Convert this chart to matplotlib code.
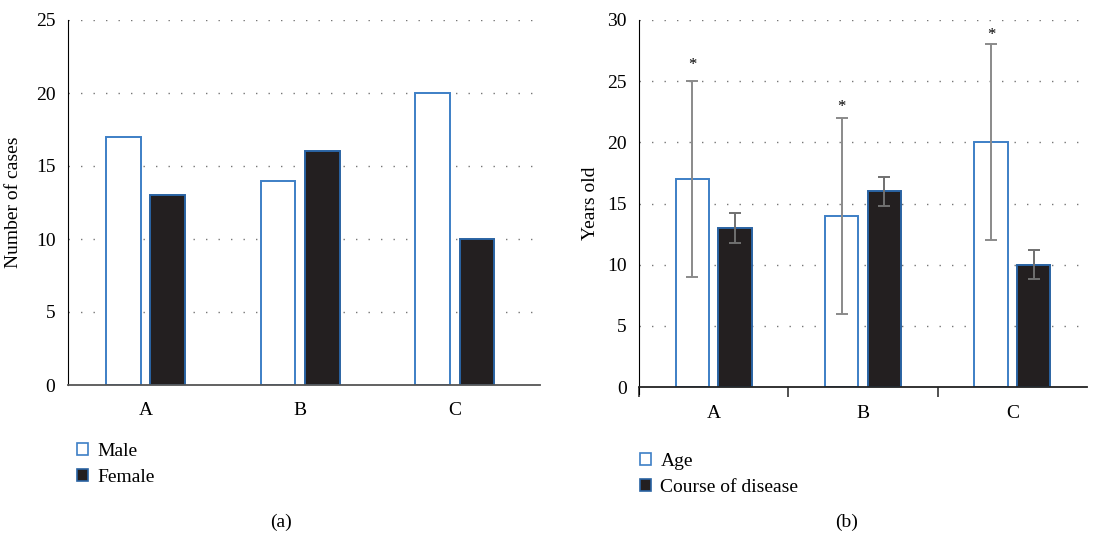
import matplotlib.pyplot as plt
from matplotlib.patches import Patch

plt.rcParams['font.family'] = ['Liberation Serif', 'DejaVu Serif']
plt.rcParams['font.size'] = 14

groups = ["A", "B", "C"]

# (a) number of cases
male = [17, 14, 20]
female = [13, 16, 10]

# (b) years old, with error bar ends
age = [17, 14, 20]
age_low = [9, 6, 12]
age_high = [25, 22, 28]
course = [13, 16, 10]
course_low = [11.8, 14.8, 8.8]
course_high = [14.2, 17.2, 11.2]
star_y = [26.3, 22.9, 28.8]

blue = "#3d7fc6"
dark_edge = "#2a63a3"
black = "#231f20"
grid_style = dict(color="#777777", linestyle=(0, (1, 8)), linewidth=1.0)

fig = plt.figure(figsize=(10.95, 5.41), dpi=100)

x = list(range(len(groups)))
off = 0.143
w = 0.225


def style_axes(ax, ymax, step):
    ax.set_ylim(0, ymax)
    ax.set_yticks(range(0, ymax + 1, step))
    ax.spines["top"].set_visible(False)
    ax.spines["right"].set_visible(False)
    ax.spines["left"].set_color("black")
    ax.tick_params(axis="y", length=0, pad=9)
    ax.set_xticks(x)
    ax.set_xticklabels(groups)
    for t in ax.get_yticks()[1:]:
        ax.axhline(t, zorder=0, **grid_style)


# ---- (a)
ax1 = fig.add_axes([68 / 1095, 1 - 385 / 541, 472 / 1095, 365 / 541])
ax1.bar([i - off for i in x], male, width=w, color="white", edgecolor=blue, linewidth=1.4, zorder=2)
ax1.bar([i + off for i in x], female, width=w, color=black, edgecolor=dark_edge, linewidth=1.4, zorder=2)
ax1.set_xlim(-0.5, 2.55)
style_axes(ax1, 25, 5)
ax1.spines["bottom"].set_color("#555555")
ax1.spines["bottom"].set_linewidth(1.3)
ax1.tick_params(axis="x", length=0, pad=12)
ax1.set_ylabel("Number of cases", labelpad=10)

# ---- (b)
ax2 = fig.add_axes([639 / 1095, 1 - 387 / 541, 448 / 1095, 367 / 541])
ax2.bar([i - off for i in x], age, width=w, color="white", edgecolor=blue, linewidth=1.4, zorder=2)
ax2.bar([i + off for i in x], course, width=w, color=black, edgecolor=dark_edge, linewidth=1.4, zorder=2)
ax2.errorbar([i - off for i in x], age,
             yerr=[[a - l for a, l in zip(age, age_low)], [h - a for a, h in zip(age, age_high)]],
             fmt="none", ecolor="#8a8a8a", elinewidth=1.4, capsize=4.5, capthick=1.4, zorder=3)
ax2.errorbar([i + off for i in x], course,
             yerr=[[c - l for c, l in zip(course, course_low)], [h - c for c, h in zip(course, course_high)]],
             fmt="none", ecolor="#707070", elinewidth=1.4, capsize=4.5, capthick=1.4, zorder=3)
for i, sy in zip(x, star_y):
    ax2.text(i - off, sy, "*", ha="center", va="center", fontsize=12)
ax2.set_xlim(-0.5, 2.5)
style_axes(ax2, 30, 5)
ax2.spines["bottom"].set_color("#222222")
ax2.spines["bottom"].set_linewidth(1.3)
ax2.spines["left"].set_bounds(-0.6, 30)
ax2.set_xticks([-0.5, 0.5, 1.5], minor=True)
ax2.tick_params(axis="x", which="major", length=0, pad=13)
ax2.tick_params(axis="x", which="minor", length=7, width=1.2, color="#333333")
ax2.set_ylabel("Years old", labelpad=6)

# legends
leg_kw = dict(frameon=False, handlelength=0.55, handleheight=0.55, handletextpad=0.5,
              labelspacing=0.45, borderpad=0, borderaxespad=0, fontsize=14, loc="upper left")
h_white = Patch(facecolor="white", edgecolor=blue, linewidth=1.2)
h_black = Patch(facecolor=black, edgecolor=dark_edge, linewidth=1.2)
fig.legend([h_white, h_black], ["Male", "Female"], bbox_to_anchor=(77 / 1095, 1 - 443 / 541), **leg_kw)
fig.legend([h_white, h_black], ["Age", "Course of disease"], bbox_to_anchor=(640 / 1095, 1 - 453 / 541), **leg_kw)

fig.text(281 / 1095, 1 - 522 / 541, "(a)", ha="center", va="center", fontsize=14)
fig.text(847 / 1095, 1 - 522 / 541, "(b)", ha="center", va="center", fontsize=14)

fig.savefig("out.png", dpi=100)
